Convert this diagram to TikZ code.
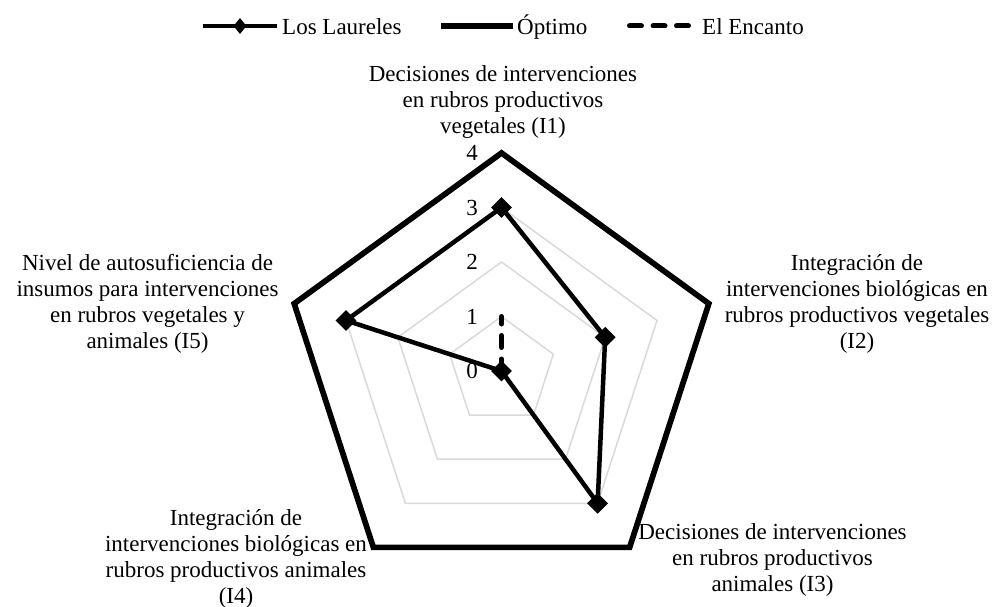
\documentclass[tikz,border=0pt]{standalone}
\usepackage{fontspec}
\setmainfont{Liberation Serif}
\usetikzlibrary{shapes.geometric}

\begin{document}
\begin{tikzpicture}[x=1pt, y=1pt,
  every node/.style={font=\fontsize{23}{26}\selectfont, inner sep=0pt},
  ring/.style={draw=black!15, line width=1.5pt},
  optimo/.style={line width=5.7pt, line join=miter},
  laureles/.style={line width=4.5pt, line join=round},
  encanto/.style={line width=5pt, line cap=round, dash pattern=on 12pt off 11.5pt},
  marker/.style={diamond, fill=black, minimum size=21pt},
  axislabel/.style={align=center}]
\useasboundingbox (0,0) rectangle (998,-607);

% Legend
\coordinate (legLauA) at (203,-26);
\coordinate (legLauB) at (277,-26);
\draw[laureles] (legLauA) -- (legLauB);
\node[marker, minimum width=13pt, minimum height=16pt] (legLauM) at (240,-26) {};
\node[anchor=base west] (legLau) at (282,-35) {Los Laureles};

\coordinate (legOptA) at (441,-26);
\coordinate (legOptB) at (513,-26);
\draw[optimo] (legOptA) -- (legOptB);
\node[anchor=base west] (legOpt) at (517,-35) {Óptimo};

\coordinate (legEncA) at (629.5,-26);
\coordinate (legEncB) at (688.5,-26);
\draw[encanto] (legEncA) -- (legEncB);
\node[anchor=base west] (legEnc) at (702,-35) {El Encanto};

%------------------------------------------------------
\begin{scope}[shift={(501.5,-371)}]
% rings
\draw[ring] (90:54.5)  -- (18:54.5)  -- (-54:54.5)  -- (-126:54.5)  -- (162:54.5)  -- cycle;
\draw[ring] (90:109)   -- (18:109)   -- (-54:109)   -- (-126:109)   -- (162:109)   -- cycle;
\draw[ring] (90:163.5) -- (18:163.5) -- (-54:163.5) -- (-126:163.5) -- (162:163.5) -- cycle;

% Los Laureles
\coordinate (lau1) at (90:163.5);
\coordinate (lau2) at (18:109);
\coordinate (lau3) at (-54:163.5);
\coordinate (lau4) at (0,0);
\coordinate (lau5) at (162:163.5);
\draw[laureles] (lau1) -- (lau2) -- (lau3) -- (lau4) -- (lau5) -- cycle;
\node[marker] (lauM1) at (lau1) {};
\node[marker] (lauM2) at (lau2) {};
\node[marker] (lauM3) at (lau3) {};
\node[marker] (lauM4) at (lau4) {};
\node[marker] (lauM5) at (lau5) {};

% Optimo
\coordinate (opt1) at (90:218);
\coordinate (opt2) at (18:218);
\coordinate (opt3) at (-54:218);
\coordinate (opt4) at (-126:218);
\coordinate (opt5) at (162:218);
\draw[optimo] (opt1) -- (opt2) -- (opt3) -- (opt4) -- (opt5) -- cycle;

% El Encanto
\coordinate (enc0) at (0,0);
\coordinate (enc1) at (90:54.5);
\draw[encanto] (enc0) -- (enc1);

% scale
\node (tick0) at (-29.5,0)     {0};
\node (tick1) at (-29.5,54.5)  {1};
\node (tick2) at (-29.5,109)   {2};
\node (tick3) at (-29.5,163.5) {3};
\node (tick4) at (-29.5,218)   {4};
\end{scope}

% Axis labels
\node[axislabel] (lblI1) at (503,-102)   {Decisiones de intervenciones\\en rubros productivos\\vegetales (I1)};
\node[axislabel] (lblI2) at (857,-304)   {Integración de\\intervenciones biológicas en\\rubros productivos vegetales\\(I2)};
\node[axislabel] (lblI3) at (772.5,-559.5) {Decisiones de intervenciones\\en rubros productivos\\animales (I3)};
\node[axislabel] (lblI4) at (236,-558.5) {Integración de\\intervenciones biológicas en\\rubros productivos animales\\(I4)};
\node[axislabel] (lblI5) at (147.5,-304) {Nivel de autosuficiencia de\\insumos para intervenciones\\en rubros vegetales y\\animales (I5)};
\end{tikzpicture}
\end{document}
